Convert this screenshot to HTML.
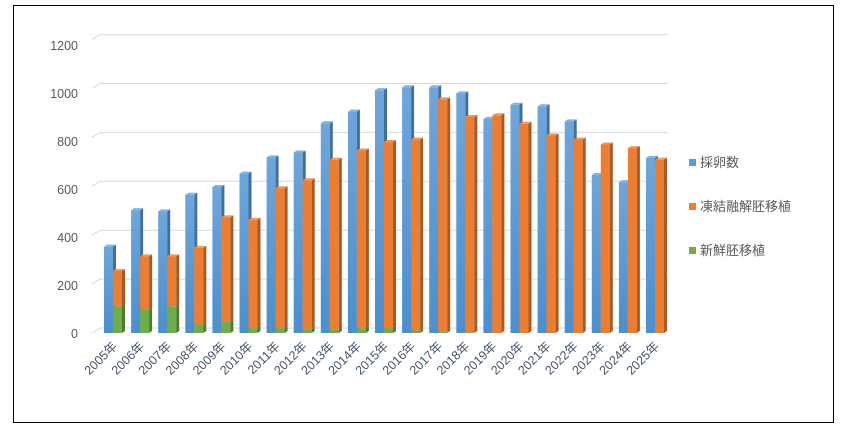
<!DOCTYPE html>
<html><head><meta charset="utf-8"><style>
body{margin:0;background:#fff;}
svg{display:block;font-family:"Liberation Sans","Noto Sans CJK JP",sans-serif;}
</style></head><body>
<svg width="847" height="433" viewBox="0 0 847 433">
<defs>
<linearGradient id="bl" x1="0" y1="0" x2="0" y2="1"><stop offset="0" stop-color="#6ea6db"/><stop offset="1" stop-color="#4a8fd0"/></linearGradient>
</defs>
<rect x="13.5" y="5.5" width="820" height="417" fill="#fff" stroke="#000" stroke-width="1"/>
<g id="g"></g>
</svg>
<script>
const NS="http://www.w3.org/2000/svg";const g=document.getElementById('g');
function el(t,a,txt){const e=document.createElementNS(NS,t);for(const k in a)e.setAttribute(k,a[k]);if(txt!==undefined)e.textContent=txt;g.appendChild(e);return e;}
const y=v=>333-0.2433*v;
for(let v=0;v<=1200;v+=200){const yy=333-0.2445*v;
 el('polyline',{points:`92,${yy} 100,${yy-5} 668,${yy-5}`,fill:'none',stroke:'#d9d9d9','stroke-width':1});
 el('text',{x:78,y:337-0.24*v+1,'text-anchor':'end','font-size':12.5,fill:'#595959'},v);}
const B=[355,505,500,568,600,655,722,742,862,910,998,1010,1010,985,880,938,932,870,650,620,720];
const O=[255,315,315,350,475,465,595,628,712,750,785,795,960,888,895,860,812,795,775,760,712];
const G=[110,95,110,35,45,20,20,15,15,20,20,10,5,3,0,0,0,0,0,0,0];
function bar(x,v0,v1,front,side,top){const a=y(v0),b=y(v1),w=9,d=3;
 if(b>=a)return;
 el('rect',{x:x,y:b,width:w,height:a-b,fill:front});
 el('polygon',{points:`${x+w},${b} ${x+w+d},${b-2} ${x+w+d},${a-2} ${x+w},${a}`,fill:side});
 if(top)el('polygon',{points:`${x},${b} ${x+d},${b-2} ${x+w+d},${b-2} ${x+w},${b}`,fill:top});}
for(let i=0;i<21;i++){const x=104+i*27.1;
 bar(x,0,B[i],'url(#bl)','#3f6f9e','#7fb2e2');
 bar(x+9,0,G[i],'#70ad47','#4e7a31',null);
 bar(x+9,G[i],O[i],'#ed7d31','#a95a23','#f0955a');
 el('text',{x:x+14,y:347,'text-anchor':'end','font-size':12.5,fill:'#44546a',transform:`rotate(-45 ${x+14} 347)`},(2005+i)+'年');}
const L=[['#5b9bd5','採卵数',163],['#ed7d31','凍結融解胚移植',207],['#70ad47','新鮮胚移植',251]];
for(const[c,t,yy]of L){el('rect',{x:689,y:yy-4,width:7,height:7,fill:c});el('text',{x:700,y:yy+4,'font-size':13,fill:'#595959'},t);}
</script>
</body></html>
